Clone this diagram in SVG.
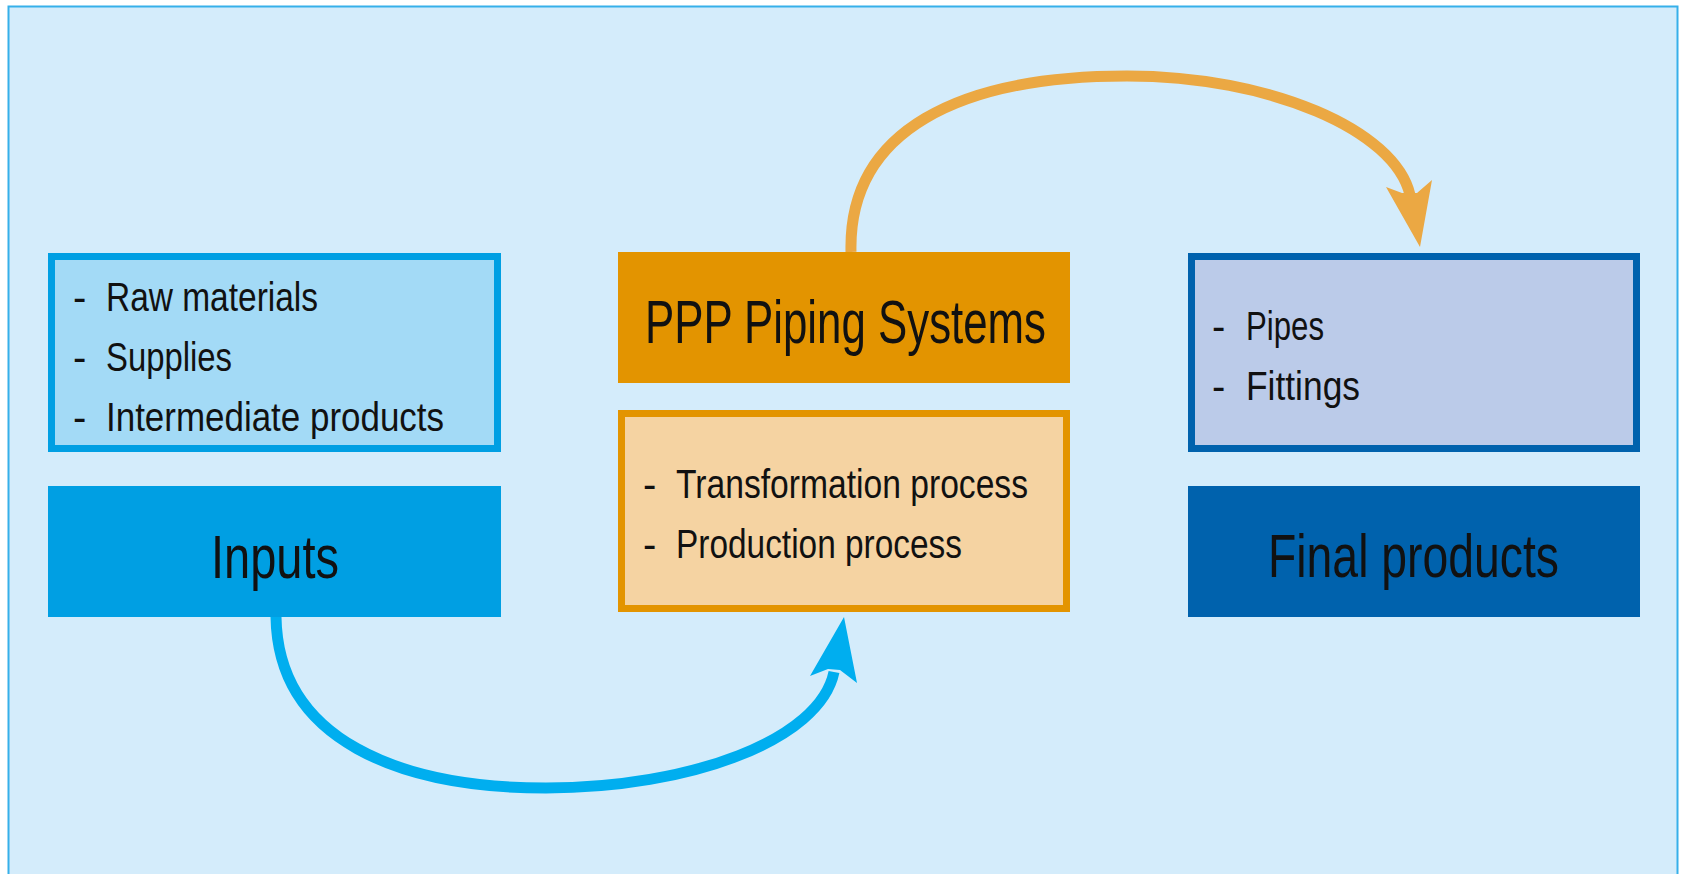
<svg xmlns="http://www.w3.org/2000/svg" width="1683" height="874" viewBox="0 0 1683 874">
<style>
.t{font-family:"Liberation Sans",Arial,sans-serif;fill:#111;}
.li{font-size:40px;}
.ti{font-size:62px;}
.con{fill:none;stroke-width:11;}
</style>
<rect width="1683" height="874" fill="#ffffff"/>
<rect id="frame" x="8.5" y="6.5" width="1669" height="880" fill="#d4ecfb" stroke="#36b0ea" stroke-width="2"/>
<g id="connectors">
  <path class="con" stroke="#eba843" d="M851,252 C848,130 960,76 1127,76 C1270,76 1395,130 1410,195"/>
  <path fill="#eba843" d="M1420,247 L1386,187 L1402,193 L1417,193 L1432,180 Z"/>
  <path class="con" stroke="#00aeef" d="M276,617 C278,740 400,788 546,788 C690,788 820,740 834,672"/>
  <path fill="#00aeef" d="M844,617 L857,683 L840,670 L828,669 L810,676 Z"/>
</g>
<g id="inputs-list">
  <rect x="51.5" y="256.5" width="446" height="192" fill="#a3daf6" stroke="#009fe3" stroke-width="7"/>
  <text class="t li"><tspan x="73" y="311">-</tspan><tspan x="106" y="311" textLength="212" lengthAdjust="spacingAndGlyphs">Raw materials</tspan></text>
  <text class="t li"><tspan x="73" y="371">-</tspan><tspan x="106" y="371" textLength="126" lengthAdjust="spacingAndGlyphs">Supplies</tspan></text>
  <text class="t li"><tspan x="73" y="431">-</tspan><tspan x="106" y="431" textLength="338" lengthAdjust="spacingAndGlyphs">Intermediate products</tspan></text>
</g>
<g id="inputs">
  <rect x="48" y="486" width="453" height="131" fill="#009fe3"/>
  <text class="t ti" x="211" y="578" textLength="128" lengthAdjust="spacingAndGlyphs">Inputs</text>
</g>
<g id="ppp">
  <rect x="618" y="252" width="452" height="131" fill="#e39400"/>
  <text class="t ti" x="645" y="343" textLength="401" lengthAdjust="spacingAndGlyphs">PPP Piping Systems</text>
</g>
<g id="process">
  <rect x="621.5" y="413.5" width="445" height="195" fill="#f5d3a2" stroke="#e39400" stroke-width="7"/>
  <text class="t li"><tspan x="643" y="498">-</tspan><tspan x="676" y="498" textLength="352" lengthAdjust="spacingAndGlyphs">Transformation process</tspan></text>
  <text class="t li"><tspan x="643" y="558">-</tspan><tspan x="676" y="558" textLength="286" lengthAdjust="spacingAndGlyphs">Production process</tspan></text>
</g>
<g id="products-list">
  <rect x="1191.5" y="256.5" width="445" height="192" fill="#bbcbe9" stroke="#0062ad" stroke-width="7"/>
  <text class="t li"><tspan x="1212" y="340">-</tspan><tspan x="1246" y="340" textLength="78" lengthAdjust="spacingAndGlyphs">Pipes</tspan></text>
  <text class="t li"><tspan x="1212" y="400">-</tspan><tspan x="1246" y="400" textLength="114" lengthAdjust="spacingAndGlyphs">Fittings</tspan></text>
</g>
<g id="final-products">
  <rect x="1188" y="486" width="452" height="131" fill="#0062ad"/>
  <text class="t ti" x="1268" y="577" textLength="291" lengthAdjust="spacingAndGlyphs">Final products</text>
</g>
</svg>
